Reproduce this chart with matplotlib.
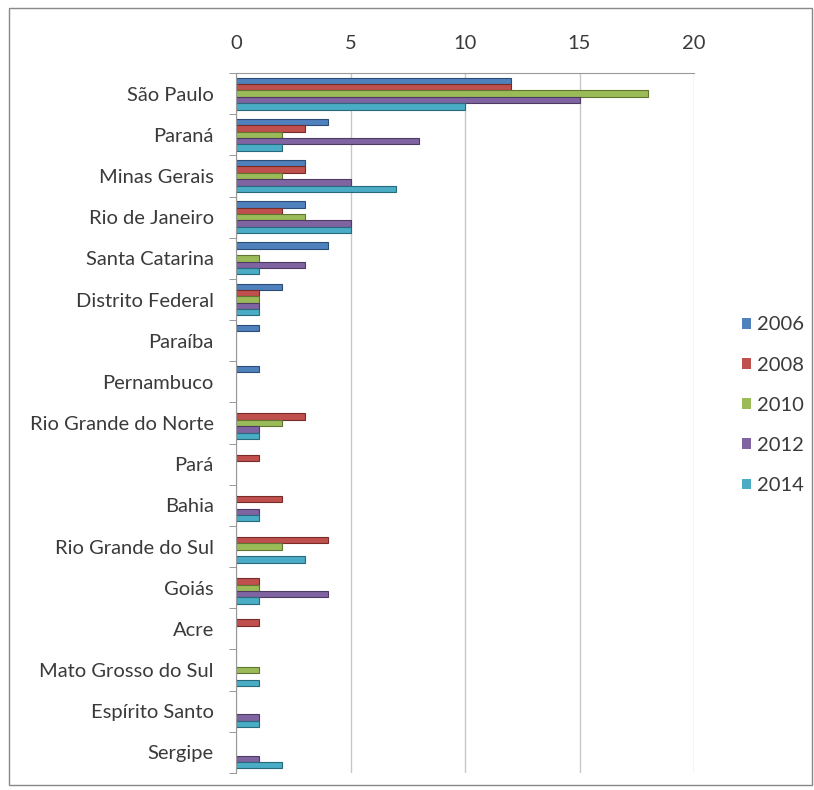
import numpy as np
import matplotlib
matplotlib.use("Agg")
from matplotlib import pyplot as plt
from matplotlib.patches import Rectangle

states = ["São Paulo", "Paraná", "Minas Gerais", "Rio de Janeiro", "Santa Catarina",
          "Distrito Federal", "Paraíba", "Pernambuco", "Rio Grande do Norte", "Pará",
          "Bahia", "Rio Grande do Sul", "Goiás", "Acre", "Mato Grosso do Sul",
          "Espírito Santo", "Sergipe"]
years = ["2006", "2008", "2010", "2012", "2014"]

v2006 = [12, 4, 3, 3, 4, 2, 1, 1, 0, 0, 0, 0, 0, 0, 0, 0, 0]
v2008 = [12, 3, 3, 2, 0, 1, 0, 0, 3, 1, 2, 4, 1, 1, 0, 0, 0]
v2010 = [18, 2, 2, 3, 1, 1, 0, 0, 2, 0, 0, 2, 1, 0, 1, 0, 0]
v2012 = [15, 8, 5, 5, 3, 1, 0, 0, 1, 0, 1, 0, 4, 0, 0, 1, 1]
v2014 = [10, 2, 7, 5, 1, 1, 0, 0, 1, 0, 1, 3, 1, 0, 1, 1, 2]

series = [v2006, v2008, v2010, v2012, v2014]
colors = ["#4F81BD", "#C0504D", "#9BBB59", "#8064A2", "#4BACC6"]
edges = ["#2c4d75", "#772c2a", "#5f7530", "#4d3b62", "#276a7c"]

plt.rcParams["font.family"] = ["Lato", "DejaVu Sans"]
fs = 14.5
tc = "#3a3a3a"

fig = plt.figure(figsize=(8.14, 7.9), dpi=100)
ax = fig.add_axes([0.290, 0.0215, 0.5626, 0.886])

y = np.arange(len(states))
bw = 0.155
for i, (vals, c, ec, yr) in enumerate(zip(series, colors, edges, years)):
    vals = np.array(vals, dtype=float)
    pos = y - 2 * bw + i * bw
    m = vals > 0
    ax.barh(pos[m], vals[m], height=bw, color=c, edgecolor=ec, linewidth=0.8)
    ax.barh([-10], [0], color=c, label=yr)

ax.set_ylim(len(states) - 0.5, -0.5)
ax.set_xlim(0, 20)
ax.set_xticks([0, 5, 10, 15, 20])
ax.xaxis.tick_top()
ax.tick_params(axis="x", length=0, pad=15, labelsize=fs, labelcolor=tc)
ax.set_yticks(y)
ax.set_yticklabels(states, fontsize=fs, color=tc)
ax.tick_params(axis="y", length=0, pad=16)
ax.set_yticks(np.arange(len(states) + 1) - 0.5, minor=True)
ax.tick_params(axis="y", which="minor", length=5, color="#888888")

ax.grid(axis="x", color="#c8c8c8", linewidth=1)
ax.set_axisbelow(True)
for s in ["right", "bottom"]:
    ax.spines[s].set_visible(False)
for s in ["left", "top"]:
    ax.spines[s].set_color("#999999")

leg = fig.legend(loc="center left", bbox_to_anchor=(0.902, 0.487), frameon=False,
                 fontsize=fs, handlelength=0.45, handleheight=0.45, handletextpad=0.3,
                 labelspacing=1.15, borderaxespad=0)
for t in leg.get_texts():
    t.set_color(tc)

fig.patches.append(Rectangle((0.011, 0.006), 0.986, 0.984, transform=fig.transFigure,
                             fill=False, edgecolor="#888888", linewidth=1))

plt.savefig("out.png", dpi=100)
